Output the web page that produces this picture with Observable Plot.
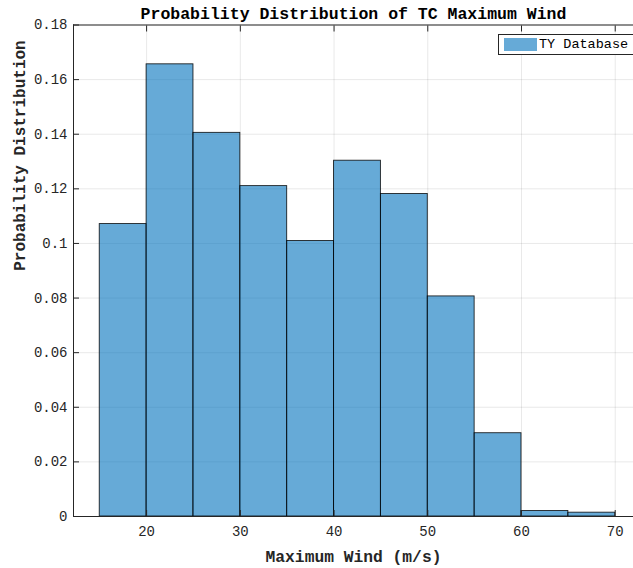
<!DOCTYPE html>
<html>
<head>
<meta charset="utf-8">
<script src="https://cdn.jsdelivr.net/npm/d3@7"></script>
<script src="https://cdn.jsdelivr.net/npm/@observablehq/plot@0.6"></script>
<style>
  html, body { margin: 0; padding: 0; background: #fff; }
  #wrap { position: relative; width: 633px; height: 568px; overflow: hidden; }
  #legend { position: absolute; left: 498px; top: 34px; width: 136px; height: 21px;
    border: 1px solid #262626; background: #fff; box-sizing: border-box;
    font-family: "Liberation Mono", "DejaVu Sans Mono", monospace; font-size: 13.5px; color: #000; }
  #legend .sw { position: absolute; left: 5px; top: 3px; width: 33px; height: 13px; background: #66AAD7; }
  #legend .tx { position: absolute; left: 40px; top: 1px; line-height: 17px; white-space: nowrap; }
</style>
</head>
<body>
<div id="wrap"></div>
<script>
// Histogram bins (m/s) and probability per bin
const binStart = [15, 20, 25, 30, 35, 40, 45, 50, 55, 60, 65];
const binEnd   = [20, 25, 30, 35, 40, 45, 50, 55, 60, 65, 70];
const probability = [0.1071, 0.1656, 0.1405, 0.1210, 0.1009, 0.1303, 0.1181, 0.0806, 0.0305, 0.0020, 0.0014];
const xTicks = [20, 30, 40, 50, 60, 70];
const yTicks = [0, 0.02, 0.04, 0.06, 0.08, 0.1, 0.12, 0.14, 0.16, 0.18];
const titleText = "Probability Distribution of TC Maximum Wind";
const xLabel = "Maximum Wind (m/s)";
const yLabel = "Probability Distribution";
const legendLabel = "TY Database";

const bins = binStart.map((s, i) => ({x1: s, x2: binEnd[i], p: probability[i]}));
const xDomain = [12.2, 71.95];
const mono = "'Liberation Mono', 'DejaVu Sans Mono', monospace";
const axisColor = "#262626";
const fmt = d => String(+d.toFixed(2));

const chart = Plot.plot({
  width: 633,
  height: 568,
  marginTop: 24.5,
  marginBottom: 52,
  marginLeft: 73,
  marginRight: 0,
  style: {fontFamily: mono, fontSize: "14px", color: "#262626", background: "#fff", overflow: "visible"},
  x: {domain: xDomain},
  y: {domain: [0, 0.18]},
  marks: [
    Plot.gridX(xTicks, {stroke: "#262626", strokeOpacity: 0.1}),
    Plot.gridY(yTicks, {stroke: "#262626", strokeOpacity: 0.1}),
    Plot.rect(bins, {x1: "x1", x2: "x2", y1: 0, y2: "p", fill: "#0072BD", fillOpacity: 0.6,
      stroke: "#000", strokeWidth: 0.9, strokeOpacity: 0.85}),
    // axis lines (box)
    Plot.ruleX([xDomain[0]], {stroke: axisColor}),
    Plot.ruleY([0], {stroke: axisColor}),
    Plot.ruleY([0.18], {stroke: axisColor}),
    // y axis: inward ticks, labels
    Plot.axisY(yTicks, {anchor: "left", tickSize: 6, dx: 6, tickPadding: 6, tickFormat: fmt,
      label: null, stroke: axisColor, fill: "#262626", fontSize: 14}),
    // x axis bottom: inward ticks, labels
    Plot.axisX(xTicks, {anchor: "bottom", tickSize: 6, dy: -6, tickPadding: 10, tickFormat: fmt,
      label: null, stroke: axisColor, fill: "#262626", fontSize: 14}),
    // x axis top: inward ticks only
    Plot.axisX(xTicks, {anchor: "top", tickSize: 6, dy: 6, tickFormat: () => "",
      label: null, stroke: axisColor}),
    // title
    Plot.text([titleText], {frameAnchor: "top", dy: -6, text: d => d, fontSize: 16.5,
      fontWeight: "bold", fill: "#000", lineAnchor: "bottom"}),
    // x label
    Plot.text([xLabel], {frameAnchor: "bottom", dy: 45, text: d => d, fontSize: 16.3,
      fontWeight: "bold", fill: "#262626", lineAnchor: "bottom"}),
    // y label
    Plot.text([yLabel], {frameAnchor: "left", dx: -54, text: d => d, fontSize: 16,
      fontWeight: "bold", fill: "#262626", rotate: -90})
  ]
});

const wrap = document.getElementById("wrap");
wrap.appendChild(chart);
const legend = document.createElement("div");
legend.id = "legend";
legend.innerHTML = `<div class="sw"></div><div class="tx"></div>`;
legend.querySelector(".tx").textContent = legendLabel;
wrap.appendChild(legend);
</script>
</body>
</html>
